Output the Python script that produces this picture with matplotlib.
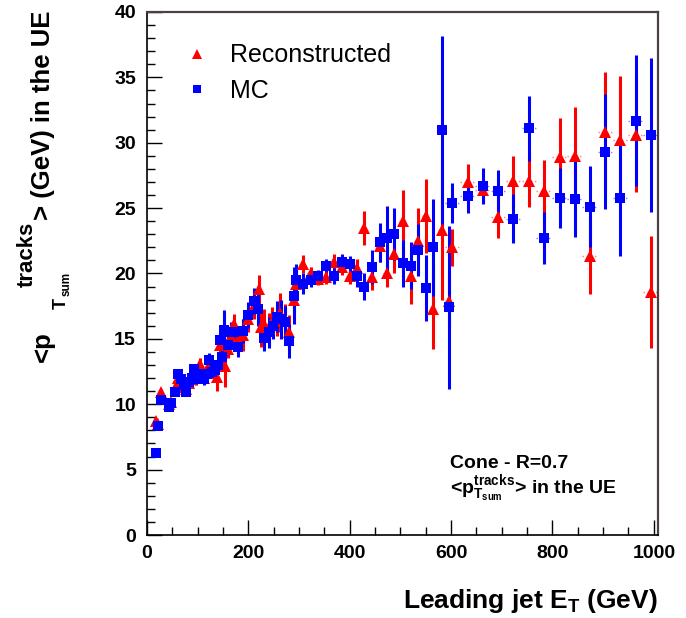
import numpy as np
import matplotlib
matplotlib.use("Agg")
import matplotlib.pyplot as plt
from matplotlib.lines import Line2D
from matplotlib.ticker import MultipleLocator

plt.rcParams['font.family'] = ['Liberation Sans', 'DejaVu Sans']
plt.rcParams['mathtext.fontset'] = 'custom'
plt.rcParams['mathtext.rm'] = 'Liberation Sans:bold'
plt.rcParams['mathtext.it'] = 'Liberation Sans:bold'
plt.rcParams['mathtext.bf'] = 'Liberation Sans:bold'

# --- MC (blue squares) ---
mc_x = [18, 22, 27, 43, 48, 55, 62, 67, 72, 77, 82, 88, 93, 97, 103, 108, 113,
        118, 123, 128, 134, 140, 144, 148, 152, 159, 165, 171, 180, 190, 199,
        211, 219, 231, 241, 248, 257, 265, 272, 280, 291, 294, 308, 323, 338,
        354, 369, 384, 400, 415, 429, 444, 459, 474, 488, 505, 520, 535, 550,
        565, 582, 595, 602, 633, 663, 693, 723, 754, 783, 814, 844, 874, 904,
        934, 964, 994]
mc_y = [6.3, 8.3, 10.3, 9.8, 10.1, 10.9, 12.3, 11.9, 11.5, 10.9, 11.7, 12.0,
        12.7, 11.9, 12.3, 12.0, 11.9, 12.3, 13.4, 12.5, 12.6, 13.0, 14.9, 13.6,
        15.7, 14.5, 15.5, 15.5, 14.4, 15.6, 16.8, 17.9, 17.3, 15.1, 15.5, 16.0,
        16.7, 16.5, 16.3, 14.8, 18.3, 19.5, 19.2, 19.5, 19.8, 20.6, 19.8, 20.9,
        20.7, 19.8, 19.0, 20.5, 22.4, 22.7, 23.0, 20.8, 20.6, 21.8, 18.9, 22.0,
        31.0, 17.4, 25.4, 25.9, 26.7, 26.3, 24.2, 31.1, 22.7, 25.8, 25.7, 25.1,
        29.3, 25.8, 31.7, 30.6]
mc_err = [0.2, 0.2, 0.2, 0.3, 0.3, 0.3, 0.3, 0.3, 0.3, 0.3, 0.3, 0.4, 0.4,
          0.4, 0.4, 0.4, 0.4, 0.5, 0.5, 0.5, 0.5, 0.6, 0.6, 0.6, 1.5, 0.7, 0.8,
          0.8, 0.8, 0.9, 1.0, 1.0, 1.3, 1.0, 1.2, 1.0, 1.2, 1.5, 1.2, 1.3, 2.2,
          1.2, 0.8, 0.5, 0.5, 0.5, 0.6, 0.6, 0.6, 0.8, 1.0, 1.3, 1.5, 2.5, 2.0,
          1.8, 1.8, 2.0, 2.5, 3.7, 7.2, 6.2, 1.5, 1.3, 1.4, 1.6, 1.9, 2.5, 2.0,
          2.3, 2.9, 3.1, 4.4, 4.5, 5.0, 5.9]

# --- Reconstructed (red triangles) ---
rec_x = [17, 22, 27, 43, 48, 57, 62, 67, 72, 77, 82, 88, 93, 97, 104, 108, 113,
         118, 123, 128, 138, 144, 148, 154, 159, 165, 171, 180, 190, 199, 211,
         220, 225, 230, 241, 247, 257, 262, 272, 280, 291, 294, 308, 323, 338,
         354, 369, 384, 400, 415, 429, 444, 459, 474, 488, 505, 520, 535, 550,
         565, 582, 595, 602, 633, 663, 693, 723, 754, 783, 814, 844, 874, 904,
         934, 964, 994]
rec_y = [8.7, 8.5, 10.9, 10.0, 10.2, 11.4, 12.0, 11.7, 11.3, 11.2, 11.6, 11.9,
         12.5, 12.0, 13.1, 12.2, 12.0, 12.4, 13.0, 12.8, 12.1, 14.5, 13.2, 12.9,
         14.2, 15.2, 16.1, 15.0, 15.3, 16.5, 17.5, 18.8, 15.9, 16.1, 15.8, 16.4,
         16.4, 17.0, 16.5, 15.5, 18.0, 19.2, 20.7, 20.0, 19.6, 19.7, 20.9, 20.5,
         19.8, 20.4, 23.5, 19.7, 22.1, 20.0, 21.5, 24.0, 19.8, 22.5, 24.4, 17.3,
         23.3, 17.9, 22.0, 27.0, 26.4, 24.3, 27.1, 27.1, 26.3, 28.9, 29.0, 21.3,
         30.8, 30.2, 30.6, 18.6]
rec_err = [0.2, 0.2, 0.2, 0.3, 0.3, 0.3, 0.3, 0.3, 0.3, 0.3, 0.3, 0.4, 0.4,
           0.4, 0.4, 0.4, 0.4, 0.5, 0.5, 0.5, 1.1, 0.6, 0.6, 1.6, 0.7, 0.8,
           0.8, 0.8, 1.2, 1.0, 1.0, 1.1, 1.5, 1.2, 1.2, 1.0, 1.2, 1.5, 1.2,
           1.3, 1.5, 1.2, 0.7, 0.5, 0.5, 0.5, 0.6, 0.6, 0.6, 0.7, 1.3, 1.0,
           1.2, 1.0, 1.5, 2.4, 2.1, 2.5, 2.8, 3.1, 5.3, 2.0, 1.4, 1.4, 1.0,
           1.6, 1.9, 2.0, 2.4, 3.0, 3.7, 2.9, 4.6, 4.9, 4.4, 4.3]

RED = "#ff0000"
BLUE = "#0000ff"
W, H = 686, 618


def half_bin(x):
    x = np.asarray(x, dtype=float)
    return np.where(x >= 600, 15.0, np.where(x >= 290, 7.5, 3.0))


def vtext(fig, px, py, s, size):
    # rotated label piece, anchored at its baseline start (pixel coords from top-left)
    fig.text(px / W, 1 - py / H, s, rotation=90, rotation_mode='anchor',
             ha='left', va='baseline', fontsize=size, fontweight='bold')


fig = plt.figure(figsize=(6.86, 6.18), dpi=100)
ax = fig.add_axes([0.2143, 0.1343, 0.7447, 0.8463])

# horizontal bin widths (faint)
ax.hlines(rec_y, np.array(rec_x) - half_bin(rec_x), np.array(rec_x) + half_bin(rec_x),
          colors=RED, lw=1.0, alpha=0.5, linestyles=(0, (1, 2)), zorder=1)
ax.hlines(mc_y, np.array(mc_x) - half_bin(mc_x), np.array(mc_x) + half_bin(mc_x),
          colors=BLUE, lw=1.0, alpha=0.5, linestyles=(0, (1, 2)), zorder=1)

# vertical error bars
ax.errorbar(rec_x, rec_y, yerr=rec_err, fmt='none', ecolor=RED,
            elinewidth=2.2, capsize=0, zorder=2)
ax.errorbar(mc_x, mc_y, yerr=mc_err, fmt='none', ecolor=BLUE,
            elinewidth=2.2, capsize=0, zorder=3)
# markers
ax.plot(rec_x, rec_y, '^', color=RED, ms=8, mew=0, ls='none', zorder=4)
ax.plot(mc_x, mc_y, 's', color=BLUE, ms=7.5, mew=0, ls='none', zorder=5)

ax.set_xlim(0, 1008)
ax.set_ylim(0, 40)
ax.xaxis.set_major_locator(MultipleLocator(200))
ax.xaxis.set_minor_locator(MultipleLocator(50))
ax.yaxis.set_major_locator(MultipleLocator(5))
ax.yaxis.set_minor_locator(MultipleLocator(1))
ax.tick_params(which='both', direction='in', top=False, right=False,
               width=1.0, labelsize=14, colors='black')
ax.tick_params(which='major', length=11)
ax.tick_params(which='minor', length=6)
ax.tick_params(axis='y', pad=8)
ax.tick_params(axis='x', pad=7)
for lab in ax.get_xticklabels() + ax.get_yticklabels():
    lab.set_fontweight('bold')

for s in ['left', 'bottom']:
    ax.spines[s].set_color('black')
    ax.spines[s].set_linewidth(1.2)
for s in ['top', 'right']:
    ax.spines[s].set_color('#4d4040')
    ax.spines[s].set_linewidth(1.6)

ax.set_xlabel(r"Leading jet E$_{T}$ (GeV)", fontsize=19, fontweight='bold',
              loc='right')
ax.xaxis.set_label_coords(1.0, -0.10)

# y title, built from pieces like the ROOT latex
vtext(fig, 50, 362, "<p", 18.5)
vtext(fig, 66, 309, "T", 13)
vtext(fig, 70, 296, "sum", 8.5)
vtext(fig, 33, 287, "tracks", 16)
vtext(fig, 50, 220, "> (GeV) in the UE", 18.5)

handles = [Line2D([], [], marker='^', color=RED, ms=6.5, mew=0, ls='none'),
           Line2D([], [], marker='s', color=BLUE, ms=6, mew=0, ls='none')]
ax.legend(handles, ["Reconstructed", "MC"], loc='upper left',
          bbox_to_anchor=(0.076, 0.94), frameon=False, fontsize=18,
          handlelength=0.9, handletextpad=0.85, labelspacing=0.45,
          borderpad=0, borderaxespad=0)

ax.text(0.593, 0.128, "Cone - R=0.7", transform=ax.transAxes, fontsize=14,
        fontweight='bold', va='baseline')
ax.text(0.593, 0.080, r"<p$^{tracks}_{T_{sum}}$> in the UE",
        transform=ax.transAxes, fontsize=14, fontweight='bold', va='baseline')

fig.savefig("out.png", dpi=100)
